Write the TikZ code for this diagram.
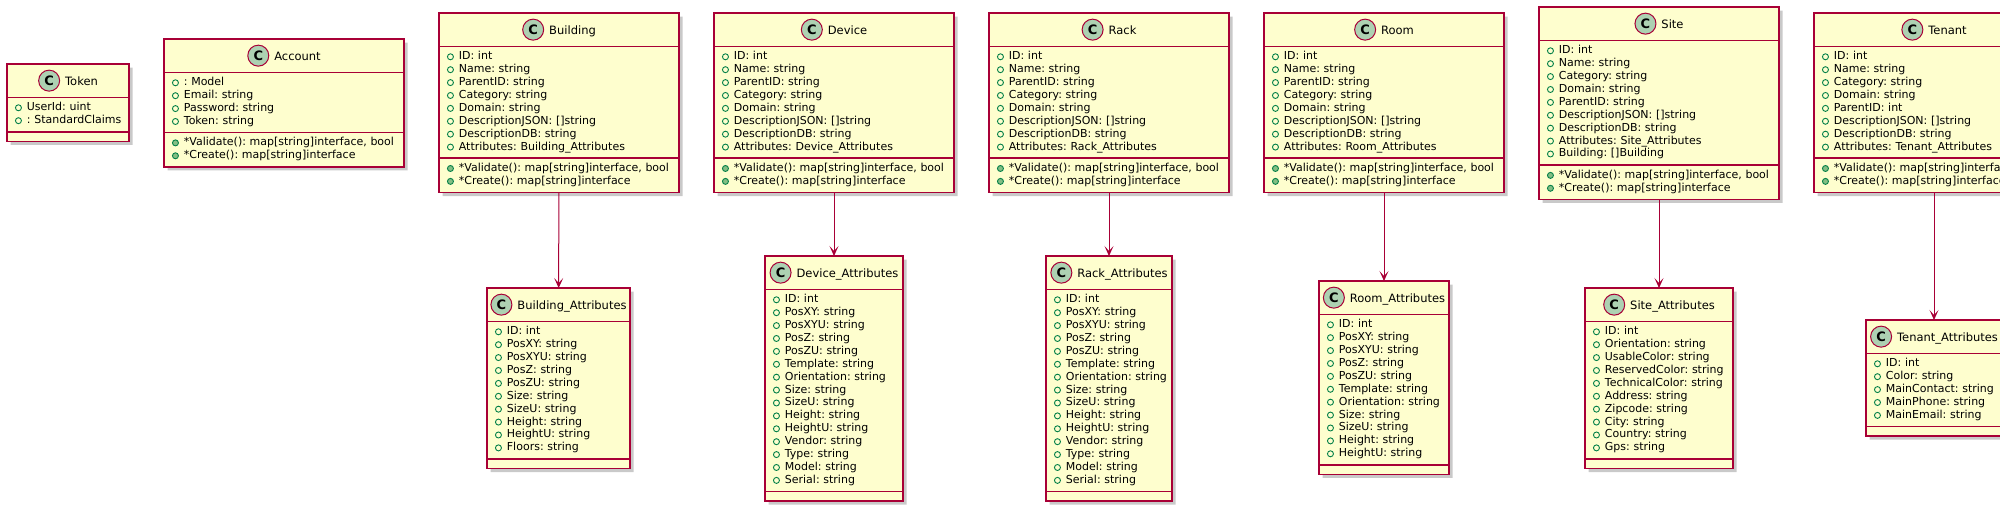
\documentclass[tikz,border=0pt]{standalone}
\usepackage{fontspec}
\setmainfont{DejaVu Sans}
\usepackage{tikz}
\usetikzlibrary{shapes.multipart,shadows,arrows.meta}
\definecolor{umlred}{HTML}{A80036}
\definecolor{umlfill}{HTML}{FEFECE}
\definecolor{badgegreen}{HTML}{ADD1B2}
\definecolor{icondark}{HTML}{038048}
\definecolor{iconlight}{HTML}{84BE84}
\setlength{\parindent}{0pt}
\frenchspacing
\newcommand{\pub}{\tikz[baseline=-3pt]\draw[pubicon] (0,0) circle (3pt);\hspace{5pt}}
\newcommand{\meth}{\tikz[baseline=-3pt]\draw[methicon] (0,0) circle (3pt);\hspace{5pt}}
\newcommand{\badge}{\tikz[baseline=-4.5pt]\draw[badgecirc] (0,0) circle (10.5pt);\hspace{-22pt}\makebox[22pt]{\bfseries\fontsize{13pt}{13pt}\selectfont C}}
\newcommand{\clshead}[1]{\makebox[\hsize]{\rule[-8.1pt]{0pt}{25pt}\badge\hspace{5pt}{\fontsize{11.5pt}{13pt}\selectfont #1}}}
\newcommand{\rows}[1]{\foreach \att in {#1}{\mbox{\strut\pub\att}\par}}
\newcommand{\methrow}[1]{\mbox{\strut\meth #1}\par}
\newcommand{\stdmeth}{\methrow{*Validate(): map[string]interface, bool}\methrow{*Create(): map[string]interface}}
\newcommand{\nometh}{\rule{0pt}{1pt}}
\newcommand{\umlclass}[6]{\node[umlbox, text width=#3] (#1) at (#2) {\clshead{#4}\nodepart{two}\rows{#5}\nodepart{three}#6};}

\begin{document}
\begin{tikzpicture}[x=1pt, y=-1pt,
	>={Stealth[length=10pt, width=9pt, inset=5pt]},
	umlbox/.style={rectangle split, rectangle split parts=3, draw=umlred, fill=umlfill, line width=1.5pt,
		inner xsep=8pt, inner ysep=3.5pt, outer sep=0pt, anchor=north west, align=left,
		font=\fontsize{11pt}{12.9pt}\selectfont,
		drop shadow={shadow xshift=3.5pt, shadow yshift=-3.5pt, opacity=0.3, fill=black!70}},
	pubicon/.style={draw=icondark, fill=umlfill, line width=0.9pt},
	methicon/.style={draw=icondark, fill=iconlight, line width=0.9pt},
	badgecirc/.style={draw=umlred, fill=badgegreen, line width=1pt},
	assoc/.style={->, draw=umlred, line width=1pt}]
	\useasboundingbox (0,0) rectangle (2000,509);
	\umlclass{token}{7,64}{106pt}{Token}{UserId: uint,: StandardClaims}{\nometh}
	\umlclass{account}{164,39}{224pt}{Account}{: Model,Email: string,Password: string,Token: string}{\stdmeth}
	\umlclass{building}{439,13}{224pt}{Building}{ID: int,Name: string,ParentID: string,Category: string,Domain: string,DescriptionJSON: []string,DescriptionDB: string,Attributes: Building\_Attributes}{\stdmeth}
	\umlclass{device}{714,13}{224pt}{Device}{ID: int,Name: string,ParentID: string,Category: string,Domain: string,DescriptionJSON: []string,DescriptionDB: string,Attributes: Device\_Attributes}{\stdmeth}
	\umlclass{rack}{989,13}{224pt}{Rack}{ID: int,Name: string,ParentID: string,Category: string,Domain: string,DescriptionJSON: []string,DescriptionDB: string,Attributes: Rack\_Attributes}{\stdmeth}
	\umlclass{room}{1264,13}{224pt}{Room}{ID: int,Name: string,ParentID: string,Category: string,Domain: string,DescriptionJSON: []string,DescriptionDB: string,Attributes: Room\_Attributes}{\stdmeth}
	\umlclass{site}{1539,7}{224pt}{Site}{ID: int,Name: string,Category: string,Domain: string,ParentID: string,DescriptionJSON: []string,DescriptionDB: string,Attributes: Site\_Attributes,Building: []Building}{\stdmeth}
	\umlclass{tenant}{1814,13}{224pt}{Tenant}{ID: int,Name: string,Category: string,Domain: string,ParentID: int,DescriptionJSON: []string,DescriptionDB: string,Attributes: Tenant\_Attributes}{\stdmeth}
	\umlclass{buildingattr}{487,288}{127pt}{Building\_Attributes}{ID: int,PosXY: string,PosXYU: string,PosZ: string,PosZU: string,Size: string,SizeU: string,Height: string,HeightU: string,Floors: string}{\nometh}
	\umlclass{deviceattr}{765,256}{122pt}{Device\_Attributes}{ID: int,PosXY: string,PosXYU: string,PosZ: string,PosZU: string,Template: string,Orientation: string,Size: string,SizeU: string,Height: string,HeightU: string,Vendor: string,Type: string,Model: string,Serial: string}{\nometh}
	\umlclass{rackattr}{1046,256}{110pt}{Rack\_Attributes}{ID: int,PosXY: string,PosXYU: string,PosZ: string,PosZU: string,Template: string,Orientation: string,Size: string,SizeU: string,Height: string,HeightU: string,Vendor: string,Type: string,Model: string,Serial: string}{\nometh}
	\umlclass{roomattr}{1319,281}{114pt}{Room\_Attributes}{ID: int,PosXY: string,PosXYU: string,PosZ: string,PosZU: string,Template: string,Orientation: string,Size: string,SizeU: string,Height: string,HeightU: string}{\nometh}
	\umlclass{siteattr}{1585,288}{132pt}{Site\_Attributes}{ID: int,Orientation: string,UsableColor: string,ReservedColor: string,TechnicalColor: string,Address: string,Zipcode: string,City: string,Country: string,Gps: string}{\nometh}
	\umlclass{tenantattr}{1866,320}{120pt}{Tenant\_Attributes}{ID: int,Color: string,MainContact: string,MainPhone: string,MainEmail: string}{\nometh}
	\draw[assoc] (building) -- (buildingattr);
	\draw[assoc] (device) -- (deviceattr);
	\draw[assoc] (rack) -- (rackattr);
	\draw[assoc] (room) -- (roomattr);
	\draw[assoc] (site) -- (siteattr);
	\draw[assoc] (tenant) -- (tenantattr);
\end{tikzpicture}
\end{document}
